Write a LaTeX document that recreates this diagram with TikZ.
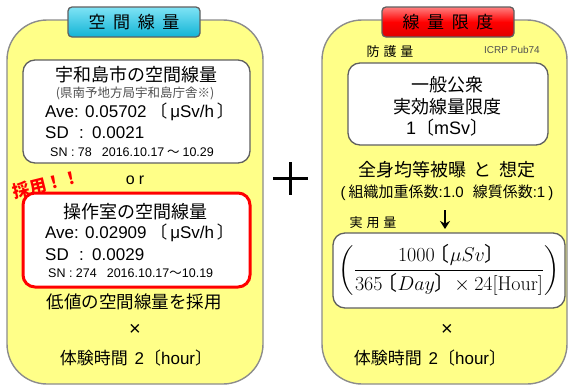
\RequirePackage{fix-cm}
\documentclass[tikz,border=0pt]{standalone}
\usepackage{amsmath}
\usepackage[no-math]{fontspec}
\setmainfont{Noto Sans CJK JP}
\newfontfamily\lat{Liberation Sans}
\usetikzlibrary{arrows.meta}
\definecolor{panelyellow}{HTML}{FFFF88}
\definecolor{panelborder}{HTML}{8C8C8C}
\definecolor{boxborder}{HTML}{606060}
\definecolor{tabcyanT}{HTML}{7FE3F5}
\definecolor{tabcyanB}{HTML}{12B4D6}
\definecolor{tabredT}{HTML}{FF8080}
\definecolor{tabredB}{HTML}{E00000}
\definecolor{subgray}{HTML}{505050}
\newcommand{\fs}[1]{\fontsize{#1}{#1}\selectfont}
\newcommand{\lbr}{\text{\kern-0.25em〔}}
\newcommand{\rbr}{\text{〕\kern-0.25em}}
\tikzset{
  panel/.style={draw=panelborder, line width=1.4pt, fill=panelyellow, rounded corners=40pt},
  whitebox/.style={draw=boxborder, line width=1.3pt, fill=white, rounded corners=12pt},
  redbox/.style={draw=red, line width=3pt, fill=white, rounded corners=12pt},
  tab/.style={draw=boxborder, line width=1.3pt, rounded corners=4pt, minimum width=132pt, minimum height=30pt, inner sep=0pt, font=\fs{17}},
  txt/.style={inner sep=0pt, font=\fs{17}},
  small/.style={inner sep=0pt, font=\fs{12.5}},
}
\begin{document}
\begin{tikzpicture}[x=1pt, y=-1pt]
\useasboundingbox (0,0) rectangle (572,388);
% panels
\draw[panel] (7,20) rectangle (263,384);
\draw[panel] (322,20) rectangle (567,384);
% tabs
\node[tab, top color=tabcyanT, bottom color=tabcyanB] (tabL) at (134,22) {空\hspace{0.45em}間\hspace{0.45em}線\hspace{0.45em}量};
\node[tab, top color=tabredT, bottom color=tabredB, middle color=red] (tabR) at (448,22) {線\hspace{0.45em}量\hspace{0.45em}限\hspace{0.45em}度};
% left white box
\draw[whitebox] (23,60) rectangle (250,163);
\node[txt, font=\fs{18}] (l1) at (136,75) {宇和島市の空間線量};
\node[small, text=subgray] (l2) at (135,93) {(県南予地方局宇和島庁舎※)};
\node[txt, anchor=west] (l3) at (45,112) {{\lat Ave: 0.05702} 〔{\lat\,μSv/h\,}〕};
\node[txt, anchor=west] (l4) at (45,133) {\lat SD\hspace{0.6em}:\hspace{0.5em}0.0021};
\node[small, anchor=west] (l5) at (50,152) {{\lat SN : 78\hspace{0.8em}2016.10.17} 〜 {\lat 10.29}};
% or, adopted
\node[txt, font=\fs{16}\lat] (or) at (135,180) {o\hspace{0.25em}r};
\node[txt, text=red, rotate=14, font=\fs{17}\bfseries] (adopt) at (46,184) {採用！！};
% red box
\draw[redbox] (23,193) rectangle (250,287);
\node[txt, font=\fs{18}] (r1) at (135,212) {操作室の空間線量};
\node[txt, anchor=west] (r2) at (45,233) {{\lat Ave: 0.02909} 〔{\lat\,μSv/h\,}〕};
\node[txt, anchor=west] (r3) at (45,255) {\lat SD\hspace{0.6em}:\hspace{0.5em}0.0029};
\node[small, anchor=west] (r4) at (48,273) {{\lat SN : 274\hspace{0.8em}2016.10.17}〜{\lat 10.19}};
% bottom left
\node[txt, font=\fs{17.5}] (low) at (134,302) {低値の空間線量を採用};
\node[txt, font=\fs{20}\lat] (xL) at (135,330) {×};
\node[txt] (timeL) at (136,358) {体験時間\hspace{0.4em}{\lat 2}〔{\lat hour}〕};
% plus
\coordinate (pl) at (273,178); \coordinate (pr) at (308,178);
\coordinate (pt) at (290,162); \coordinate (pb) at (290,195);
\draw[line width=3pt] (pl) -- (pr);
\draw[line width=3pt] (pt) -- (pb);
% right panel
\node[inner sep=0pt, font=\fs{13}] (bogo) at (390,52) {防\hspace{0.3em}護\hspace{0.3em}量};
\node[inner sep=0pt, font=\fs{10}\lat, text=subgray] (icrp) at (512,50) {ICRP Pub74};
\draw[whitebox] (348,63) rectangle (548,145);
\node[txt, font=\fs{18}] (g1) at (447,85) {一般公衆};
\node[txt, font=\fs{18}] (g2) at (447,107) {実効線量限度};
\node[txt, font=\fs{18}] (g3) at (447,128) {{\lat 1}〔{\lat mSv}〕};
\node[txt, font=\fs{18}] (zen) at (447,170) {全身均等被曝\hspace{0.4em}と\hspace{0.4em}想定};
\node[txt, font=\fs{15}] (soshiki) at (447,193) {{\lat (}\hspace{0.2em}組織加重係数{\lat :1.0}\hspace{0.6em}線質係数{\lat :1}\hspace{0.2em}{\lat )}};
\coordinate (at) at (445,210); \coordinate (ab) at (445,229);
\draw[line width=2.5pt, -{Stealth[length=8pt,width=10pt]}] (at) -- (ab);
\node[inner sep=0pt, font=\fs{13}] (jitsu) at (373,223) {実\hspace{0.3em}用\hspace{0.3em}量};
\draw[whitebox] (333,233) rectangle (565,308);
\node[inner sep=0pt, font=\fs{20}] (formula) at (449,270) {$\displaystyle\left(\frac{1000\lbr\mu Sv\rbr}{365\lbr Day\rbr\times 24[\mathrm{Hour}]}\right)$};
\node[txt, font=\fs{20}\lat] (xR) at (447,330) {×};
\node[txt] (timeR) at (430,358) {体験時間\hspace{0.4em}{\lat 2}〔{\lat hour}〕};
\end{tikzpicture}
\end{document}
